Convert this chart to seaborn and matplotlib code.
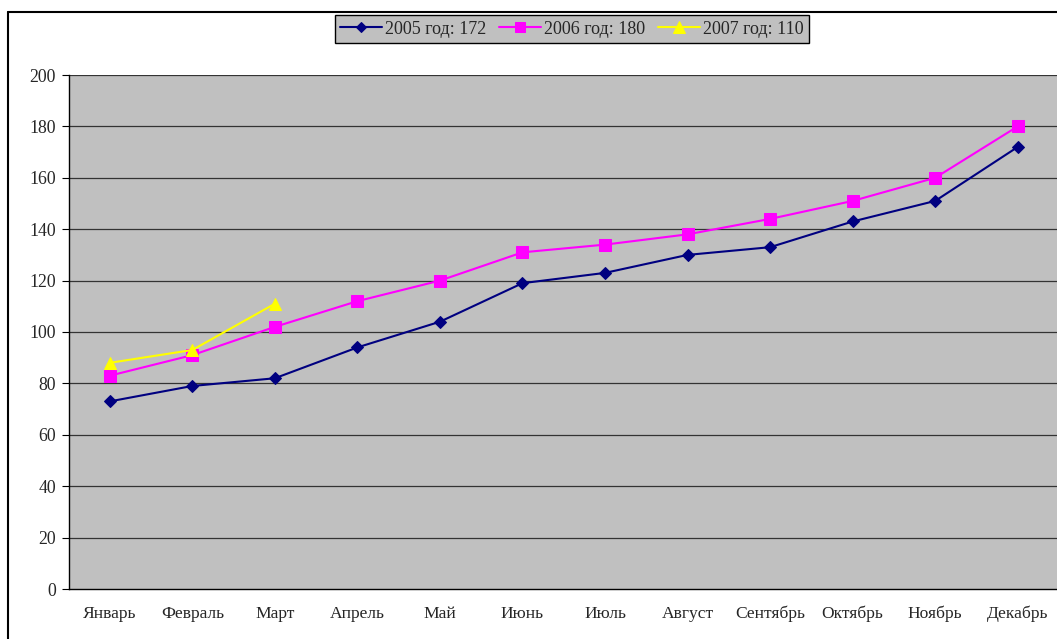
import matplotlib
matplotlib.use("Agg")
import matplotlib.pyplot as plt
import seaborn as sns
import pandas as pd
from matplotlib.lines import Line2D

months = ["Январь", "Февраль", "Март", "Апрель", "Май", "Июнь", "Июль",
          "Август", "Сентябрь", "Октябрь", "Ноябрь", "Декабрь"]
v2005 = [73, 79, 82, 94, 104, 119, 123, 130, 133, 143, 151, 172]
v2006 = [83, 91, 102, 112, 120, 131, 134, 138, 144, 151, 160, 180]
v2007 = [88, 93, 111]
labels = ["2005 год: 172", "2006 год: 180", "2007 год: 110"]
colors = ["#000080", "#FF00FF", "#FFFF00"]
markers = ["D", "s", "^"]
msizes = [6, 8, 9]
yticks = [0, 20, 40, 60, 80, 100, 120, 140, 160, 180, 200]

sns.set_style("white")
plt.rcParams['font.family'] = ['Liberation Serif', 'DejaVu Serif']

rows = []
for lab, vals in zip(labels, [v2005, v2006, v2007]):
    for i, v in enumerate(vals):
        rows.append({"month": i, "value": v, "series": lab})
df = pd.DataFrame(rows)

fig = plt.figure(figsize=(10.57, 6.39), dpi=100)
W, H = 1057, 639
left, right, top, bottom = 68.5, 1059, 75, 589
ax = fig.add_axes([left / W, 1 - bottom / H, (right - left) / W, (bottom - top) / H])
ax.set_facecolor("#C0C0C0")

for lab, c, m, ms in zip(labels, colors, markers, msizes):
    sub = df[df.series == lab]
    sns.lineplot(data=sub, x="month", y="value", ax=ax, color=c, marker=m,
                 markersize=ms, markeredgecolor=c, linewidth=1.5, label=lab,
                 zorder=3)

ax.set_xlim(-0.5, 11.5)
ax.set_ylim(0, 200)
ax.set_yticks(yticks)
ax.set_yticklabels([str(t) for t in yticks], fontsize=12.8)
ax.set_xticks(range(12))
ax.set_xticklabels(months, fontsize=12.6)
ax.set_xticks([i - 0.5 for i in range(13)], minor=True)
ax.tick_params(axis="x", which="major", length=0, pad=12)
ax.tick_params(axis="x", which="minor", length=5, width=0.8, color="black", direction="out")
ax.tick_params(axis="y", length=5, width=0.8, color="black", direction="out", pad=4, left=True)
ax.set_xlabel("")
ax.set_ylabel("")
ax.grid(False)
for t in yticks[1:]:
    ax.axhline(t, color="#333333", linewidth=0.9, zorder=1)

for s in ["top", "right"]:
    ax.spines[s].set_visible(False)
ax.spines["left"].set_color("black")
ax.spines["bottom"].set_color("black")
ax.spines["left"].set_linewidth(1)
ax.spines["bottom"].set_linewidth(1)

leg = ax.legend(loc="center", bbox_to_anchor=(572 / W, 1 - 29 / H),
                bbox_transform=fig.transFigure, ncol=3, frameon=True,
                fontsize=13, handlelength=2.3, columnspacing=0.7,
                handletextpad=0.2, borderpad=0.3, fancybox=False,
                markerscale=0.9)
leg.get_frame().set_facecolor("#C0C0C0")
leg.get_frame().set_edgecolor("black")
leg.get_frame().set_linewidth(1)
leg.get_frame().set_alpha(1)

# figure border (left and top)
fig.add_artist(Line2D([7.5 / W, 7.5 / W], [0, 1 - 11.5 / H], transform=fig.transFigure,
                      color="black", linewidth=1.5))
fig.add_artist(Line2D([7.5 / W, 1], [1 - 11.5 / H, 1 - 11.5 / H], transform=fig.transFigure,
                      color="black", linewidth=1.5))

fig.savefig("out.png", dpi=100)
